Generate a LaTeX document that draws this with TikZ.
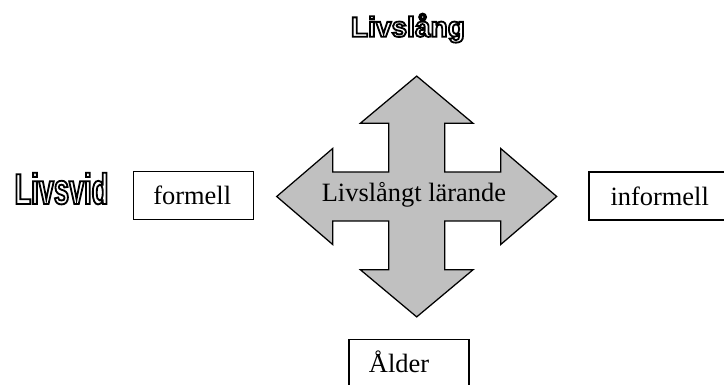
\documentclass[tikz,border=0pt]{standalone}
\usepackage{fontspec}
\setmainfont{Liberation Serif}
\newfontfamily\headsans{Liberation Sans}
\newfontfamily\narrowsans{Liberation Sans}[FakeStretch=0.63]
\definecolor{arrowgray}{RGB}{192, 192, 192}
\usetikzlibrary{positioning}
\newcommand{\hollow}[1]{\special{pdf:literal direct 1 Tr 1.3 w}#1\special{pdf:literal direct 0 Tr}}

\begin{document}
\begin{tikzpicture}[
    sidebox/.style={draw, line width=0.9pt, anchor=north west, minimum height=1.2cm,
      text width=2cm, inner xsep=0.5cm, align=left, text height=0.6cm, text depth=0.14cm,
      font=\fontsize{18.8}{22}\selectfont},
    bodytext/.style={font=\fontsize{18.8}{22}\selectfont}
  ]
  \useasboundingbox (-10.4175, -4.7125) rectangle (7.6825, 4.9125);

  % Cross arrow
  \draw[fill=arrowgray, line width=0.9pt, line join=miter]
    (0, 3.01) -- (1.41, 1.83) -- (0.7, 1.83) -- (0.7, 0.61) -- (2.1, 0.61) -- (2.1, 1.2)
    -- (3.5, 0) -- (2.1, -1.2) -- (2.1, -0.61) -- (0.7, -0.61) -- (0.7, -1.83) -- (1.41, -1.83)
    -- (0, -3.01) -- (-1.41, -1.83) -- (-0.7, -1.83) -- (-0.7, -0.61) -- (-2.1, -0.61) -- (-2.1, -1.2)
    -- (-3.5, 0) -- (-2.1, 1.2) -- (-2.1, 0.61) -- (-0.7, 0.61) -- (-0.7, 1.83) -- (-1.41, 1.83) -- cycle;
  \node[bodytext, anchor=base] (lifelong) at (-0.07, -0.13) {Livslångt lärande};

  % Headings
  \node[font=\headsans\bfseries\fontsize{20}{24}\selectfont, anchor=base] (lang) at (-0.22, 3.995) {\hollow{Livslång}};
  \node[font=\narrowsans\bfseries\fontsize{30.7}{34}\selectfont, anchor=base] (vid) at (-8.88, -0.1875) {\hollow{Livsvid}};

  % Boxes
  \node[sidebox] (formal) at (-7.1, 0.645) {formell};
  \node[sidebox, text width=2.6cm, inner xsep=0.54cm] (informal) at (4.29, 0.63) {informell};
  \node[sidebox] (age) at (-1.71, -3.5625) {Ålder};
\end{tikzpicture}
\end{document}
